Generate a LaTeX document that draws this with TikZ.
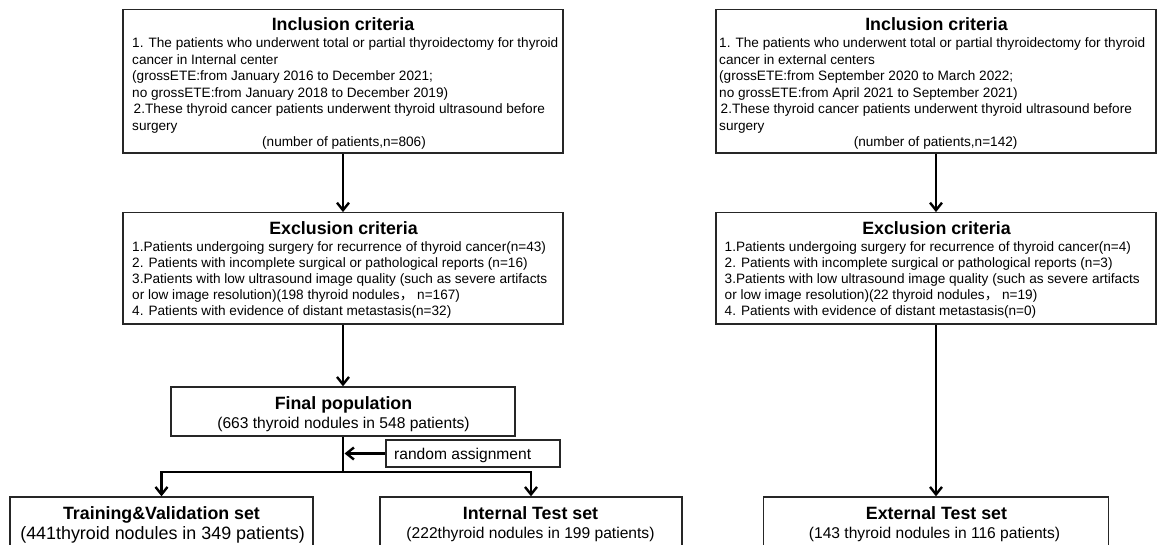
\documentclass[tikz,border=0pt]{standalone}
\usepackage{fontspec}
\setmainfont{Liberation Sans}
\newfontfamily\cjkfont{Noto Sans CJK SC}
\usetikzlibrary{arrows.meta}
\begin{document}
\begin{tikzpicture}[x=1pt,y=-1pt,
  box/.style={draw=black!85, line width=1.3pt, inner sep=0pt},
  body/.style={font=\fontsize{13.6}{16}\selectfont, inner sep=0pt, anchor=base west},
  bodyc/.style={font=\fontsize{13.6}{16}\selectfont, inner sep=0pt, anchor=base},
  ttl/.style={font=\bfseries\fontsize{17.8}{20}\selectfont, inner sep=0pt, anchor=base},
  sub/.style={font=\fontsize{15.6}{18}\selectfont, inner sep=0pt, anchor=base},
  conn/.style={line width=2.8pt, -{Straight Barb[length=7.5pt,width=12pt,line width=2.4pt]}},
  plain/.style={line width=2.8pt}]
\useasboundingbox (0,0) rectangle (1163,545);
% ---------- boxes ----------
\node[box, minimum width=440pt, minimum height=143.7pt] (inclL) at (343,81.2) {};
\node[box, minimum width=440pt, minimum height=143.7pt] (inclR) at (936,81.2) {};
\node[box, minimum width=440pt, minimum height=111.3pt] (exclL) at (343,268.4) {};
\node[box, minimum width=440pt, minimum height=111.3pt] (exclR) at (936,268.4) {};
\node[box, minimum width=344pt, minimum height=49pt] (final) at (343,411.5) {};
\node[box, minimum width=174pt, minimum height=27pt] (rand) at (473,453.5) {};
\node[box, minimum width=303pt, minimum height=63pt] (train) at (161.5,528.5) {};
\node[box, minimum width=302pt, minimum height=63pt] (intT) at (531,528.5) {};
\node[box, minimum width=345pt, minimum height=63pt] (extT) at (936,528.5) {};
% ---------- inclusion (internal) ----------
\node[ttl] (inclLt) at (343,30.4) {Inclusion criteria};
\node[body] (inclL1) at (132,48) {1. The patients who underwent total or partial thyroidectomy for thyroid};
\node[body] (inclL2) at (132,64.5) {cancer in Internal center};
\node[body] (inclL3) at (132,81) {(grossETE:from January 2016 to December 2021;};
\node[body] (inclL4) at (132,97.5) {no grossETE:from January 2018 to December 2019)};
\node[body] (inclL5) at (133.5,114) {2.These thyroid cancer patients underwent thyroid ultrasound before};
\node[body] (inclL6) at (132,130.5) {surgery};
\node[bodyc] (inclL7) at (344,147) {(number of patients,n=806)};
% ---------- inclusion (external) ----------
\node[ttl] (inclRt) at (936.5,30.4) {Inclusion criteria};
\node[body] (inclR1) at (719,48) {1. The patients who underwent total or partial thyroidectomy for thyroid};
\node[body] (inclR2) at (719,64.5) {cancer in external centers};
\node[body] (inclR3) at (719,81) {(grossETE:from September 2020 to March 2022;};
\node[body] (inclR4) at (719,97.5) {no grossETE:from April 2021 to September 2021)};
\node[body] (inclR5) at (720.5,114) {2.These thyroid cancer patients underwent thyroid ultrasound before};
\node[body] (inclR6) at (719,130.5) {surgery};
\node[bodyc] (inclR7) at (935.6,147) {(number of patients,n=142)};
% ---------- exclusion (internal) ----------
\node[ttl] (exclLt) at (343.5,234.5) {Exclusion criteria};
\node[body] (exclL1) at (132,252) {1.Patients undergoing surgery for recurrence of thyroid cancer(n=43)};
\node[body] (exclL2) at (132,268) {2. Patients with incomplete surgical or pathological reports (n=16)};
\node[body] (exclL3) at (132,284) {3.Patients with low ultrasound image quality (such as severe artifacts};
\node[body] (exclL4) at (132,300) {or low image resolution)(198 thyroid nodules{\cjkfont ，} n=167)};
\node[body] (exclL5) at (132,316) {4. Patients with evidence of distant metastasis(n=32)};
% ---------- exclusion (external) ----------
\node[ttl] (exclRt) at (936.5,234.5) {Exclusion criteria};
\node[body] (exclR1) at (724.5,252) {1.Patients undergoing surgery for recurrence of thyroid cancer(n=4)};
\node[body] (exclR2) at (724.5,268) {2. Patients with incomplete surgical or pathological reports (n=3)};
\node[body] (exclR3) at (724.5,284) {3.Patients with low ultrasound image quality (such as severe artifacts};
\node[body] (exclR4) at (724.5,300) {or low image resolution)(22 thyroid nodules{\cjkfont ，} n=19)};
\node[body] (exclR5) at (724.5,316) {4. Patients with evidence of distant metastasis(n=0)};
% ---------- final population ----------
\node[ttl] (finalt) at (343.5,409.4) {Final population};
\node[sub] (finals) at (343.5,428.6) {(663 thyroid nodules in 548 patients)};
\node[font=\fontsize{15.6}{18}\selectfont, inner sep=0pt, anchor=base west] (randt) at (394,459.6) {random assignment};
% ---------- sets ----------
\node[ttl] (traint) at (161.5,519.4) {Training\&Validation set};
\node[font=\fontsize{17.9}{20}\selectfont, inner sep=0pt, anchor=base] (trains) at (162.6,539.4) {(441thyroid nodules in 349 patients)};
\node[ttl] (intTt) at (530.5,519.4) {Internal Test set};
\node[sub] (intTs) at (530.5,538.6) {(222thyroid nodules in 199 patients)};
\node[ttl] (extTt) at (936.5,519.4) {External Test set};
\node[sub] (extTs) at (934.5,538.6) {(143 thyroid nodules in 116 patients)};
% ---------- connectors ----------
\coordinate (split) at (343,472);
\draw[conn] (inclL.south) -- (exclL.north);
\draw[conn] (exclL.south) -- (final.north);
\draw[conn] (inclR.south) -- (exclR.north);
\draw[conn] (exclR.south) -- (extT.north);
\draw[plain] (final.south) -- (split);
\draw[conn] ([xshift=1.4pt]split) -| (train.north);
\draw[conn] ([xshift=-1.4pt]split) -| (intT.north);
\draw[conn, shorten >=1.5pt] (rand.west) -- (final.south |- rand.west);
\end{tikzpicture}
\end{document}
